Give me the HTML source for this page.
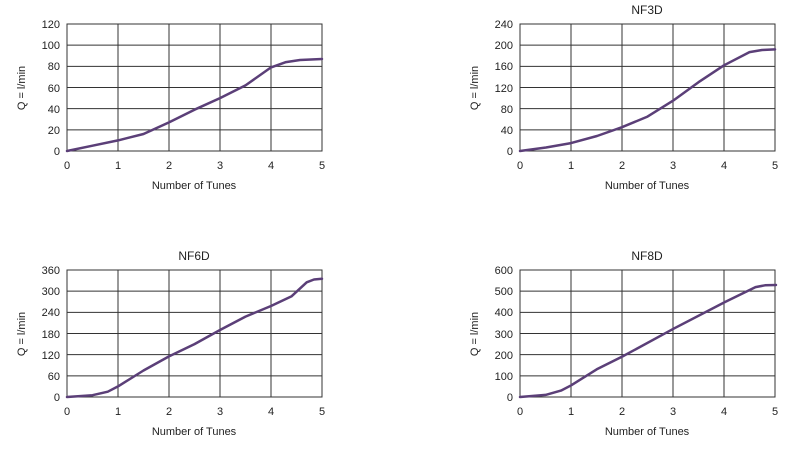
<!DOCTYPE html>
<html><head><meta charset="utf-8"><style>
html,body{margin:0;padding:0;background:#fff;}
svg{display:block;font-family:"Liberation Sans",Arial,sans-serif;}
</style></head><body>
<svg width="800" height="452" viewBox="0 0 800 452" xmlns="http://www.w3.org/2000/svg">
<defs>
<g id="grid">
<rect x="0" y="0" width="255" height="127" fill="none" stroke="#333" stroke-width="1"/>
<g stroke="#333" stroke-width="1">
<line x1="51" y1="0" x2="51" y2="127"/><line x1="102" y1="0" x2="102" y2="127"/>
<line x1="153" y1="0" x2="153" y2="127"/><line x1="204" y1="0" x2="204" y2="127"/>
<line x1="0" y1="21.17" x2="255" y2="21.17"/><line x1="0" y1="42.33" x2="255" y2="42.33"/>
<line x1="0" y1="63.5" x2="255" y2="63.5"/><line x1="0" y1="84.67" x2="255" y2="84.67"/>
<line x1="0" y1="105.83" x2="255" y2="105.83"/>
</g>
<g font-size="11" fill="#222" text-anchor="middle">
<text x="0" y="145">0</text><text x="51" y="145">1</text><text x="102" y="145">2</text>
<text x="153" y="145">3</text><text x="204" y="145">4</text><text x="255" y="145">5</text>
<text x="127" y="165">Number of Tunes</text>
</g>
<text transform="translate(-42,64) rotate(-90)" font-size="11" fill="#222" text-anchor="middle">Q = l/min</text>
</g>
</defs>

<g transform="translate(67,24)"><use href="#grid"/>
<g font-size="11" fill="#222" text-anchor="end">
<text x="-7" y="131">0</text><text x="-7" y="110">20</text><text x="-7" y="89">40</text><text x="-7" y="68">60</text><text x="-7" y="46">80</text><text x="-7" y="25">100</text><text x="-7" y="4">120</text></g></g>

<g transform="translate(520,24)"><use href="#grid"/>
<text x="127" y="-10" font-size="12" fill="#222" text-anchor="middle">NF3D</text>
<g font-size="11" fill="#222" text-anchor="end">
<text x="-7" y="131">0</text><text x="-7" y="110">40</text><text x="-7" y="89">80</text><text x="-7" y="68">120</text><text x="-7" y="46">160</text><text x="-7" y="25">200</text><text x="-7" y="4">240</text></g></g>

<g transform="translate(67,270)"><use href="#grid"/>
<text x="127" y="-10" font-size="12" fill="#222" text-anchor="middle">NF6D</text>
<g font-size="11" fill="#222" text-anchor="end">
<text x="-7" y="131">0</text><text x="-7" y="110">60</text><text x="-7" y="89">120</text><text x="-7" y="68">180</text><text x="-7" y="46">240</text><text x="-7" y="25">300</text><text x="-7" y="4">360</text></g></g>

<g transform="translate(520,270)"><use href="#grid"/>
<text x="127" y="-10" font-size="12" fill="#222" text-anchor="middle">NF8D</text>
<g font-size="11" fill="#222" text-anchor="end">
<text x="-7" y="131">0</text><text x="-7" y="110">100</text><text x="-7" y="89">200</text><text x="-7" y="68">300</text><text x="-7" y="46">400</text><text x="-7" y="25">500</text><text x="-7" y="4">600</text></g></g>

<g fill="none" stroke="#5b3f78" stroke-width="2.5" stroke-linejoin="round" stroke-linecap="round">
<polyline points="67,151 92.5,145.7 118,140.4 143.5,134 169,122.4 194.5,109.7 220,98.1 245.5,85.4 271,67.4 286,62.1 300,60 322,59"/>
<polyline points="520,151 546,147.5 571,143.1 597,136 622,127.2 647.5,116.6 673,100.7 698.5,82.2 724,65.3 749.5,52.1 762,50 775,49.4"/>
<polyline points="67,397 92.5,395.2 107.8,391.7 118,386.4 143.5,370.5 169,356.4 194.5,344.1 220,330 245.5,316.6 271,306 291.4,296.4 306.7,282.3 314,279.5 322,278.8"/>
<polyline points="520,397 545.6,394.9 561,390.6 571.2,385.3 596.8,369.3 622.4,356.5 673.6,328.7 724.8,302.1 755.5,287.1 765,285.3 776,285"/>
</g>
</svg>
</body></html>
